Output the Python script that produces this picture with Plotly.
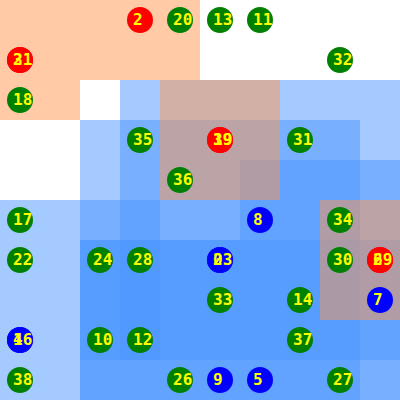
import plotly.graph_objects as go

# ---- point data (grid column, grid row, label, group colour) ----
cols   = [3, 4, 5, 6,  0, 0, 8,  0,  3, 5, 5, 7,  4,  0, 6, 8,  0, 2, 3, 5, 5, 8, 9, 9,  5, 7, 9,  0, 0, 2, 3, 7,  0, 4, 5, 6, 8]
rows   = [0, 0, 0, 0,  1, 1, 1,  2,  3, 3, 3, 3,  4,  5, 5, 5,  6, 6, 6, 6, 6, 6, 6, 6,  7, 7, 7,  8, 8, 8, 8, 8,  9, 9, 9, 9, 9]
labels = ["2", "20", "13", "11", "3", "21", "32", "18", "35", "19", "39", "31", "36",
          "17", "8", "34", "22", "24", "28", "0", "23", "30", "6", "29", "33", "14", "7",
          "4", "16", "10", "12", "37", "38", "26", "9", "5", "27"]
groups = ["red", "green", "green", "green", "red", "red", "green", "green", "green", "red", "red", "green", "green",
          "green", "blue", "green", "green", "green", "green", "blue", "blue", "green", "red", "red", "green", "green", "blue",
          "blue", "blue", "green", "green", "green", "green", "green", "blue", "blue", "green"]

# ---- background regions (col0, col1, row0, row1) ----
blue_regions = [
    (0, 10, 5, 10),
    (2, 9, 3, 10),
    (3, 10, 2, 5),
    (6, 10, 4, 9),
    (3, 4, 5, 9),
    (2, 10, 6, 10),
    (2, 6, 6, 9),
]
orange_regions = [
    (0, 5, 0, 2),
    (0, 2, 2, 3),
    (4, 7, 2, 5),
    (8, 10, 5, 8),
]

group_colors = {"red": "#ff0000", "green": "#008000", "blue": "#0000ff"}

fig = go.Figure()

shapes = []
for c0, c1, r0, r1 in blue_regions:
    shapes.append(dict(type="rect", x0=c0, x1=c1, y0=r0, y1=r1, xref="x", yref="y",
                       fillcolor="rgba(75,150,255,0.5)", line=dict(width=0), layer="below"))
for c0, c1, r0, r1 in orange_regions:
    shapes.append(dict(type="rect", x0=c0, x1=c1, y0=r0, y1=r1, xref="x", yref="y",
                       fillcolor="rgba(255,150,75,0.5)", line=dict(width=0), layer="below"))

xs = [c + 0.5 for c in cols]
ys = [r + 0.5 for r in rows]

fig.add_trace(go.Scatter(
    x=xs, y=ys, mode="markers",
    marker=dict(size=26, color=[group_colors[g] for g in groups], line=dict(width=0)),
    hoverinfo="skip", showlegend=False,
))

annotations = []
for x, y, t in zip(xs, ys, labels):
    annotations.append(dict(x=x, y=y, xref="x", yref="y", text=t, showarrow=False,
                            xanchor="left", yanchor="middle", xshift=-9, yshift=1,
                            font=dict(family="DejaVu Sans Mono", size=16, color="#ffff00", weight="bold")))

fig.update_layout(
    width=400, height=400,
    margin=dict(l=0, r=0, t=0, b=0),
    paper_bgcolor="white", plot_bgcolor="white",
    shapes=shapes, annotations=annotations,
    xaxis=dict(range=[0, 10], visible=False, fixedrange=True),
    yaxis=dict(range=[10, 0], visible=False, fixedrange=True),
)

fig.write_html("out.html")
